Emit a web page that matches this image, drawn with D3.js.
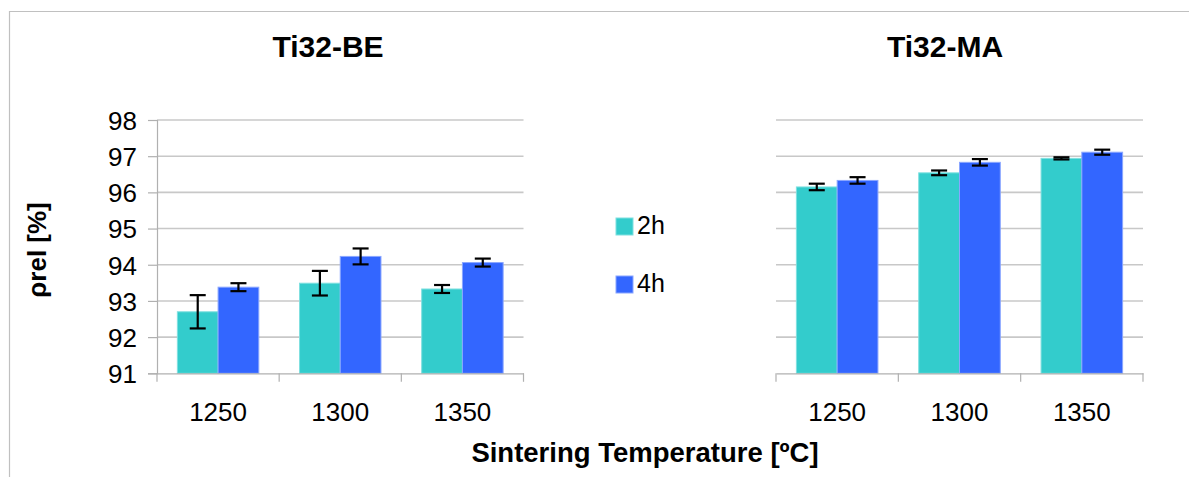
<!DOCTYPE html>
<html>
<head>
<meta charset="utf-8">
<script src="https://cdn.jsdelivr.net/npm/d3@7"></script>
<style>
  body { margin: 0; background: #fff; }
  text { font-family: "Liberation Sans", Arial, sans-serif; fill: #000; }
</style>
</head>
<body>
<svg id="chart"></svg>
<script>
var temps = ["1250", "1300", "1350"];
var series = ["2h", "4h"];
var colors = ["#33cccc", "#3366ff"];
var strokes = ["#7fe0e0", "#8aa6ff"];

// Ti32-BE
var be2h = [92.70, 93.49, 93.33];
var be2hErr = [0.46, 0.34, 0.11];
var be4h = [93.38, 94.23, 94.06];
var be4hErr = [0.11, 0.22, 0.11];

// Ti32-MA
var ma2h = [96.15, 96.54, 96.94];
var ma2hErr = [0.09, 0.065, 0.03];
var ma4h = [96.33, 96.83, 97.11];
var ma4hErr = [0.09, 0.09, 0.07];

var yTicks = [91, 92, 93, 94, 95, 96, 97, 98];

var width = 1189,
    height = 477;

var svg = d3.select("#chart")
    .attr("width", width)
    .attr("height", height);

svg.append("rect").attr("width", width).attr("height", height).attr("fill", "#fff");

// outer frame (only top and left visible)
svg.append("path")
    .attr("d", "M9.5,477V11.5H1189")
    .attr("fill", "none")
    .attr("stroke", "#c0c0c0")
    .attr("stroke-width", 1.2);

var y = d3.scaleLinear().domain([91, 98]).range([373.3, 120]);

function rows(m2, e2, m4, e4) {
    return temps.map(function(t, i) {
        return { temp: t, vals: [{ s: "2h", v: m2[i], e: e2[i] }, { s: "4h", v: m4[i], e: e4[i] }] };
    });
}

function panel(x0px, x1px, title, titleX, data, showY) {
    var g = svg.append("g");
    var x0 = d3.scaleBand().domain(temps).range([x0px, x1px]).padding(0);
    var x1 = d3.scaleBand().domain(series).range([0, x0.bandwidth()]).paddingInner(0).paddingOuter(0.5);
    var color = d3.scaleOrdinal().domain(series).range(colors);
    var stroke = d3.scaleOrdinal().domain(series).range(strokes);

    // gridlines
    g.selectAll("line.grid")
        .data(yTicks.filter(function(d) { return d > 91; }))
        .enter().append("line")
        .attr("x1", x0px).attr("x2", x1px)
        .attr("y1", function(d) { return y(d); })
        .attr("y2", function(d) { return y(d); })
        .attr("stroke", "#c8c8c8")
        .attr("stroke-width", 1.6);

    if (showY) {
        var yAxis = g.append("g")
            .attr("transform", "translate(" + x0px + ",0)")
            .call(d3.axisLeft(y).tickValues(yTicks).tickSize(9).tickPadding(11).tickFormat(d3.format("d")));
        yAxis.select(".domain").attr("stroke", "#b0b0b0").attr("stroke-width", 1.2);
        yAxis.selectAll(".tick line").attr("stroke", "#b0b0b0").attr("stroke-width", 1.2);
        yAxis.selectAll(".tick text")
            .style("font-size", "26px")
            .style("font-family", "Liberation Sans, Arial, sans-serif")
            .attr("dy", "0.36em");
    }

    // bars
    var groups = g.selectAll("g.cat")
        .data(data)
        .enter().append("g")
        .attr("transform", function(d) { return "translate(" + x0(d.temp) + ",0)"; });

    groups.selectAll("rect")
        .data(function(d) { return d.vals; })
        .enter().append("rect")
        .attr("x", function(d) { return x1(d.s); })
        .attr("width", x1.bandwidth())
        .attr("y", function(d) { return y(d.v); })
        .attr("height", function(d) { return y(91) - y(d.v); })
        .attr("fill", function(d) { return color(d.s); })
        .attr("stroke", function(d) { return stroke(d.s); })
        .attr("stroke-width", 1);

    // error bars
    var eb = groups.selectAll("g.err")
        .data(function(d) { return d.vals; })
        .enter().append("g")
        .attr("transform", function(d) { return "translate(" + (x1(d.s) + x1.bandwidth() / 2) + ",0)"; })
        .attr("stroke", "#000")
        .attr("stroke-width", 2.2);
    eb.append("line")
        .attr("y1", function(d) { return y(d.v + d.e); })
        .attr("y2", function(d) { return y(d.v - d.e); });
    eb.append("line").attr("x1", -8).attr("x2", 8)
        .attr("y1", function(d) { return y(d.v + d.e); })
        .attr("y2", function(d) { return y(d.v + d.e); });
    eb.append("line").attr("x1", -8).attr("x2", 8)
        .attr("y1", function(d) { return y(d.v - d.e); })
        .attr("y2", function(d) { return y(d.v - d.e); });

    // x axis
    var xAxis = g.append("g")
        .attr("transform", "translate(0," + y(91) + ")")
        .call(d3.axisBottom(x0).tickSize(0).tickPadding(29));
    xAxis.select(".domain").attr("stroke", "#b0b0b0").attr("stroke-width", 1.2);
    xAxis.selectAll(".tick text")
        .style("font-size", "26px")
        .style("font-family", "Liberation Sans, Arial, sans-serif");
    var bounds = temps.map(function(t) { return x0(t); }).concat([x1px]);
    xAxis.selectAll("line.sep")
        .data(bounds)
        .enter().append("line")
        .attr("x1", function(d) { return d; }).attr("x2", function(d) { return d; })
        .attr("y1", 0).attr("y2", 8.5)
        .attr("stroke", "#b0b0b0").attr("stroke-width", 1.2);

    svg.append("text")
        .attr("x", titleX).attr("y", 57)
        .attr("text-anchor", "middle")
        .style("font-size", "30px").style("font-weight", "bold")
        .text(title);
}

panel(157, 523.5, "Ti32-BE", 328, rows(be2h, be2hErr, be4h, be4hErr), true);
panel(776, 1143, "Ti32-MA", 945, rows(ma2h, ma2hErr, ma4h, ma4hErr), false);

// y label
svg.append("text")
    .attr("transform", "translate(46,250) rotate(-90)")
    .attr("text-anchor", "middle")
    .style("font-size", "26px").style("font-weight", "bold")
    .text("ρrel [%]");

// x label
svg.append("text")
    .attr("x", 645).attr("y", 462)
    .attr("text-anchor", "middle")
    .style("font-size", "27.5px").style("font-weight", "bold")
    .text("Sintering Temperature [ºC]");

// legend
var legend = svg.append("g").selectAll("g")
    .data(series)
    .enter().append("g")
    .attr("transform", function(d, i) { return "translate(616," + (218 + i * 58) + ")"; });
legend.append("rect")
    .attr("width", 17).attr("height", 17)
    .attr("fill", function(d, i) { return colors[i]; })
    .attr("stroke", function(d, i) { return strokes[i]; })
    .attr("stroke-width", 1);
legend.append("text")
    .attr("x", 21).attr("y", 16)
    .style("font-size", "25px")
    .text(function(d) { return d; });
</script>
</body>
</html>
